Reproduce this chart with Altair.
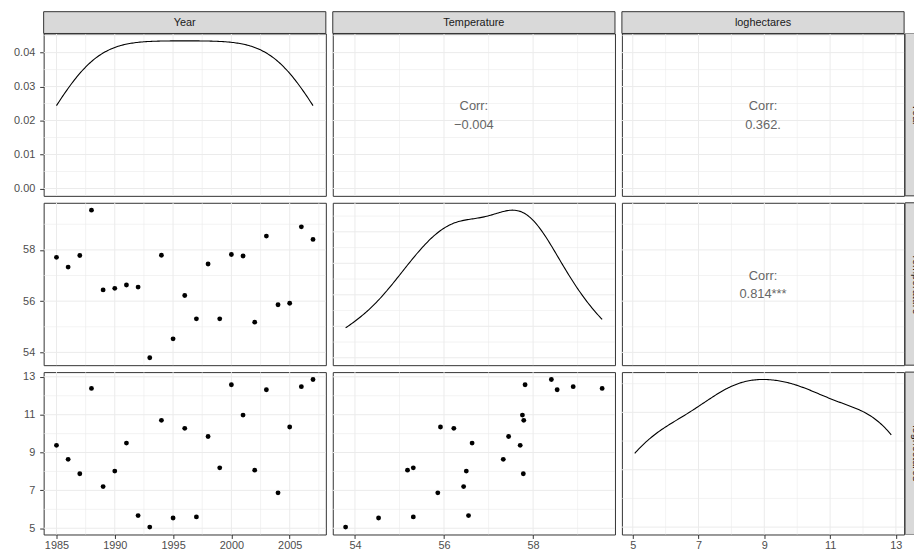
import altair as alt
import numpy as np
import pandas as pd

# ---------------- data ----------------
years = list(range(1985, 2008))
temperature = [57.71, 57.33, 57.78, 59.55, 56.44, 56.50, 56.63, 56.55, 53.79, 57.79,
               54.53, 56.22, 55.31, 57.45, 55.31, 57.82, 57.76, 55.18, 58.54, 55.86,
               55.92, 58.90, 58.41]
loghectares = [9.38, 8.64, 7.88, 12.39, 7.20, 8.02, 9.50, 5.67, 5.06, 10.70,
               5.54, 10.28, 5.60, 9.85, 8.19, 12.58, 10.98, 8.07, 12.32, 6.87,
               10.35, 12.48, 12.86]
variables = ["Year", "Temperature", "loghectares"]
corr_labels = {(0, 1): "Corr:\n\u22120.004", (0, 2): "Corr:\n0.362.", (1, 2): "Corr:\n0.814***"}

major_ticks = {"Year": [1985, 1990, 1995, 2000, 2005],
               "Temperature": [54, 56, 58],
               "loghectares": [5, 7, 9, 11, 13]}
minor_ticks = {"Year": [1987.5, 1992.5, 1997.5, 2002.5, 2007.5],
               "Temperature": [55, 57, 59],
               "loghectares": [6, 8, 10, 12]}
dens_major = {"Year": [0, 0.01, 0.02, 0.03, 0.04],
              "Temperature": [0, 0.05, 0.10, 0.15, 0.20],
              "loghectares": [0, 0.05, 0.10]}
dens_minor = {"Year": [0.005, 0.015, 0.025, 0.035, 0.045],
              "Temperature": [0.025, 0.075, 0.125, 0.175, 0.225],
              "loghectares": [0.025, 0.075, 0.125]}

df = pd.DataFrame({"Year": years, "Temperature": temperature, "loghectares": loghectares})

# ---------------- styling ----------------
W, H = 285, 164
GAP = 7
STRIP_H = 22
FONT = "Liberation Sans"
GRID = "#EBEBEB"
DARK = "#333333"
STRIP_FILL = "#D9D9D9"
LINE_H = 19


def pad_domain(v):
    lo, hi = float(min(v)), float(max(v))
    r = hi - lo
    return [lo - 0.05 * r, hi + 0.05 * r]


def nrd0(v):
    v = np.asarray(v, dtype=float)
    sd = v.std(ddof=1)
    iqr = np.subtract(*np.percentile(v, [75, 25]))
    return 0.9 * min(sd, iqr / 1.34) * len(v) ** (-0.2)


def kde_max(v, bw):
    v = np.asarray(v, dtype=float)
    g = np.linspace(v.min(), v.max(), 512)
    d = np.exp(-0.5 * ((g[:, None] - v[None, :]) / bw) ** 2).sum(1) / (len(v) * bw * np.sqrt(2 * np.pi))
    return d.max()


xdom = {v: pad_domain(df[v]) for v in variables}
bws = {v: nrd0(df[v]) for v in variables}
ddom = {}
for v in variables:
    m = kde_max(df[v], bws[v])
    ddom[v] = [-0.05 * m, 1.05 * m]


def scale(dom):
    return alt.Scale(domain=dom, nice=False, zero=False)


def vgrid(vals, sc, sw, ax):
    return alt.Chart(pd.DataFrame({"g": vals})).mark_rule(color=GRID, strokeWidth=sw).encode(
        x=alt.X("g:Q", scale=sc, axis=ax))


def hgrid(vals, sc, sw, ax):
    return alt.Chart(pd.DataFrame({"g": vals})).mark_rule(color=GRID, strokeWidth=sw).encode(
        y=alt.Y("g:Q", scale=sc, axis=ax))


def panel(i, j):
    xv, yv = variables[j], variables[i]
    xs = scale(xdom[xv])
    xmaj, xmin = major_ticks[xv], minor_ticks[xv]
    if i == j or (i == 0 and j > 0):
        dv = variables[i]
        ys = scale(ddom[dv])
        ymaj, ymin = dens_major[dv], dens_minor[dv]
        yfmt = ".2f"
    else:
        ys = scale(xdom[yv])
        ymaj, ymin = major_ticks[yv], minor_ticks[yv]
        yfmt = "d"

    x_axis = (alt.Axis(values=xmaj, title=None, format="d", labelPadding=1, tickSize=4)
              if i == 2 else None)
    y_axis = (alt.Axis(values=ymaj, title=None, format=yfmt, labelPadding=5, tickSize=4)
              if j == 0 else None)

    layers = [vgrid(xmin, xs, 0.6, x_axis), hgrid(ymin, ys, 0.6, y_axis),
              vgrid(xmaj, xs, 1.0, x_axis), hgrid(ymaj, ys, 1.0, y_axis)]

    if i == j:
        lo, hi = float(df[xv].min()), float(df[xv].max())
        layers.append(
            alt.Chart(df).transform_density(
                xv, as_=["val", "dens"], bandwidth=float(bws[xv]), extent=[lo, hi], steps=200
            ).mark_line(color="black", strokeWidth=1.1).encode(
                x=alt.X("val:Q", scale=xs, axis=x_axis),
                y=alt.Y("dens:Q", scale=ys, axis=y_axis))
        )
    elif i > j:
        layers.append(
            alt.Chart(df).mark_circle(size=24, color="black", opacity=1).encode(
                x=alt.X(f"{xv}:Q", scale=xs, axis=x_axis),
                y=alt.Y(f"{yv}:Q", scale=ys, axis=y_axis))
        )
    else:
        layers.append(
            alt.Chart(pd.DataFrame({"t": [corr_labels[(i, j)]]})).mark_text(
                font=FONT, fontSize=13, color="#666666", lineBreak="\n", lineHeight=LINE_H,
                align="center", baseline="middle").encode(
                x=alt.value(W / 2), y=alt.value(H / 2 + 1 - LINE_H / 2), text="t:N")
        )

    if i == 0:
        sd = pd.DataFrame({"t": [variables[j]]})
        layers.append(alt.Chart(sd).mark_rect(fill=STRIP_FILL, stroke=DARK, strokeWidth=1).encode(
            x=alt.value(0), x2=alt.value(W), y=alt.value(-STRIP_H), y2=alt.value(0)))
        layers.append(alt.Chart(sd).mark_text(font=FONT, fontSize=11, color="#1A1A1A",
                                              align="center", baseline="middle").encode(
            x=alt.value(W / 2), y=alt.value(-STRIP_H / 2), text="t:N"))

    return alt.layer(*layers).properties(width=W, height=H)


panels = [panel(i, j) for i in range(3) for j in range(3)]
main = alt.concat(*panels, columns=3, spacing=GAP, bounds="flush")

# right-hand strips (cut by the picture's right edge, as in the reference)
SW = 9
strip_layers = [
    alt.Chart(pd.DataFrame({"t": [""]})).mark_rect(fill="white", strokeWidth=0).encode(
        x=alt.value(0), x2=alt.value(SW), y=alt.value(-STRIP_H - 0.5), y2=alt.value(0))
]
for i, v in enumerate(variables):
    top = i * (H + GAP)
    sd = pd.DataFrame({"t": [v]})
    strip_layers.append(alt.Chart(sd).mark_rect(fill=STRIP_FILL, stroke=DARK, strokeWidth=1, clip=True).encode(
        x=alt.value(0), x2=alt.value(STRIP_H + 8), y=alt.value(top), y2=alt.value(top + H)))
    strip_layers.append(alt.Chart(sd).mark_text(font=FONT, fontSize=11, color="#1A1A1A", angle=90,
                                                align="center", baseline="middle", clip=True).encode(
        x=alt.value(STRIP_H / 2), y=alt.value(top + H / 2), text="t:N"))

strips = alt.layer(*strip_layers).properties(
    width=SW, height=3 * H + 2 * GAP, view=alt.ViewBackground(stroke=None))

chart = alt.hconcat(main, strips, spacing=0, bounds="full").properties(
    padding={"left": 5, "top": 0, "right": 0, "bottom": 2},
    background="white",
).configure_view(stroke=DARK, strokeWidth=1).configure_axis(
    labelFont=FONT, labelFontSize=11, labelColor="#4D4D4D",
    tickColor=DARK, tickWidth=1, domain=False, grid=False)

chart.save("out.html", embed_options={"renderer": "svg", "actions": False})
